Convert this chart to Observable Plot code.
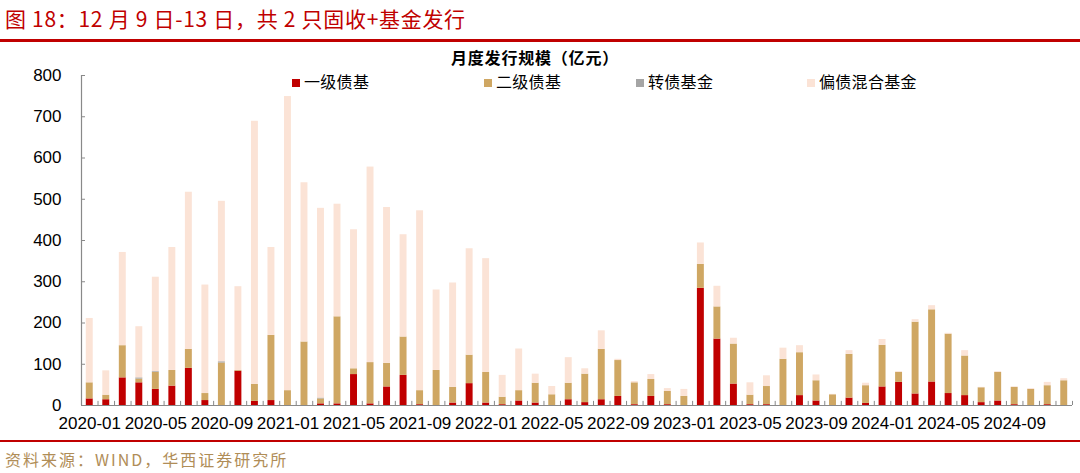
<!DOCTYPE html>
<html><head><meta charset="utf-8">
<script src="https://cdn.jsdelivr.net/npm/d3@7"></script>
<script src="https://cdn.jsdelivr.net/npm/@observablehq/plot@0.6"></script>
<style>
html,body{margin:0;padding:0;background:#fff}
body{width:1080px;height:473px;position:relative;overflow:hidden;font-family:"Noto Sans CJK SC","Noto Sans",sans-serif}
#title{position:absolute;left:5px;top:4px;font-size:21px;line-height:28px;letter-spacing:0.7px;color:#C00000;white-space:nowrap}
.redline{position:absolute;left:0;width:1080px;background:#C00000}
#ctitle{position:absolute;left:0;width:1070px;top:48px;text-align:center;font-size:16px;font-weight:bold;line-height:19px;letter-spacing:0.8px;color:#000}
#legend{position:absolute;top:72px;left:0;width:1080px;height:19px}
.item{position:absolute;top:0;font-size:16px;line-height:19px;letter-spacing:0.3px;color:#000;white-space:nowrap}
.sw{display:inline-block;width:8px;height:8px;margin-right:4px;vertical-align:1px}
#chart{position:absolute;left:0;top:50px}
#source{position:absolute;left:5px;top:448px;font-size:16px;line-height:22px;color:#B08D57;letter-spacing:2px;white-space:nowrap}
</style></head>
<body>
<div id="title">图 18：12 月 9 日-13 日，共 2 只固收+基金发行</div>
<div class="redline" style="top:39px;height:3px"></div>
<div id="chart"></div>
<div id="ctitle">月度发行规模（亿元）</div>
<div id="legend"></div>
<div class="redline" style="top:440px;height:2px"></div>
<div id="source">资料来源：WIND，华西证券研究所</div>
<script>
const months = [
"2020-01","2020-02","2020-03","2020-04","2020-05","2020-06","2020-07","2020-08","2020-09","2020-10","2020-11","2020-12",
"2021-01","2021-02","2021-03","2021-04","2021-05","2021-06","2021-07","2021-08","2021-09","2021-10","2021-11","2021-12",
"2022-01","2022-02","2022-03","2022-04","2022-05","2022-06","2022-07","2022-08","2022-09","2022-10","2022-11","2022-12",
"2023-01","2023-02","2023-03","2023-04","2023-05","2023-06","2023-07","2023-08","2023-09","2023-10","2023-11","2023-12",
"2024-01","2024-02","2024-03","2024-04","2024-05","2024-06","2024-07","2024-08","2024-09","2024-10","2024-11","2024-12"];
const xTickLabels = ["2020-01","2020-05","2020-09","2021-01","2021-05","2021-09","2022-01","2022-05","2022-09","2023-01","2023-05","2023-09","2024-01","2024-05","2024-09"];
const yTicks = [0,100,200,300,400,500,600,700,800];
const seriesNames = ["一级债基","二级债基","转债基金","偏债混合基金"];
const seriesColors = ["#C00000","#CFA763","#A5A5A5","#FBE3D6"];
const yiji = [16,14,67,55,39,47,90,12,0,83,10,12, 0,0,4,4,75,4,45,73,2,0,6,53, 6,2,11,6,0,14,7,14,22,2,22,2, 0,284,161,52,2,2,0,24,11,0,18,5, 45,56,28,57,29,24,7,11,2,0,2,0];
const erji = [39,11,78,9,41,38,46,17,103,2,41,158, 36,154,12,211,14,100,57,93,34,85,38,69, 74,18,25,48,26,40,69,122,87,53,41,32, 22,58,78,97,23,44,112,104,49,26,106,43, 101,24,174,175,144,96,36,69,42,39,46,60];
const zhuanzhai = [0,0,0,3,2,0,0,0,3,0,0,0, 0,0,2,0,0,0,0,0,0,0,0,0, 0,0,0,0,0,0,0,0,0,0,0,0, 0,0,0,0,0,0,0,0,0,0,0,0, 0,0,0,0,0,0,0,0,0,0,0,0];
const pianzhai = [156,59,226,124,229,298,381,263,389,203,638,213, 713,386,460,273,337,474,378,248,436,195,253,258, 276,53,101,22,20,62,13,45,3,3,12,7, 17,52,50,14,30,26,27,17,14,1,9,6, 14,2,6,10,2,13,1,2,1,2,8,5];

const seriesValues = [yiji, erji, zhuanzhai, pianzhai];
const rows = [];
seriesNames.forEach((s, si) => months.forEach((m, i) => rows.push({month: m, series: s, value: seriesValues[si][i]})));

const W = 1080, mL = 81, mR = 8;
const step = (W - mL - mR) / months.length;
const axisColor = "#898989";

const chart = Plot.plot({
  width: W, height: 390,
  marginTop: 25, marginBottom: 35, marginLeft: mL, marginRight: mR,
  x: {type: "band", domain: months, paddingInner: 0.58, paddingOuter: 0.29, axis: null},
  y: {domain: [0, 800], axis: null},
  color: {domain: seriesNames, range: seriesColors},
  style: {fontFamily: "'Liberation Sans', Arial, sans-serif", fontSize: "17px", color: "#000", background: "transparent", overflow: "visible"},
  marks: [
    Plot.barY(rows, {x: "month", y: "value", fill: "series", order: seriesNames}),
    Plot.ruleY([0], {stroke: axisColor, strokeWidth: 1.2}),
    Plot.ruleX([months[0]], {y1: 0, y2: 800, dx: -step / 2, stroke: axisColor, strokeWidth: 1.2}),
    Plot.ruleX(months, {x: d => d, y1: 0, y2: 10, dx: -step / 2, stroke: axisColor}),
    Plot.ruleX([months[months.length - 1]], {y1: 0, y2: 10, dx: step / 2, stroke: axisColor}),
    Plot.axisY({ticks: yTicks, tickSize: -4, tickPadding: 24, stroke: axisColor, fill: "#000", fontSize: 17, label: null}),
    Plot.axisX({ticks: xTickLabels, tickSize: 0, tickPadding: 11, fill: "#000", fontSize: 17, label: null})
  ]
});
document.getElementById("chart").appendChild(chart);

const legendX = [292, 484, 636, 807];
const lg = document.getElementById("legend");
seriesNames.forEach((s, i) => {
  const d = document.createElement("div");
  d.className = "item";
  d.style.left = legendX[i] + "px";
  d.innerHTML = `<span class="sw" style="background:${seriesColors[i]}"></span>${s}`;
  lg.appendChild(d);
});
</script>
</body></html>
